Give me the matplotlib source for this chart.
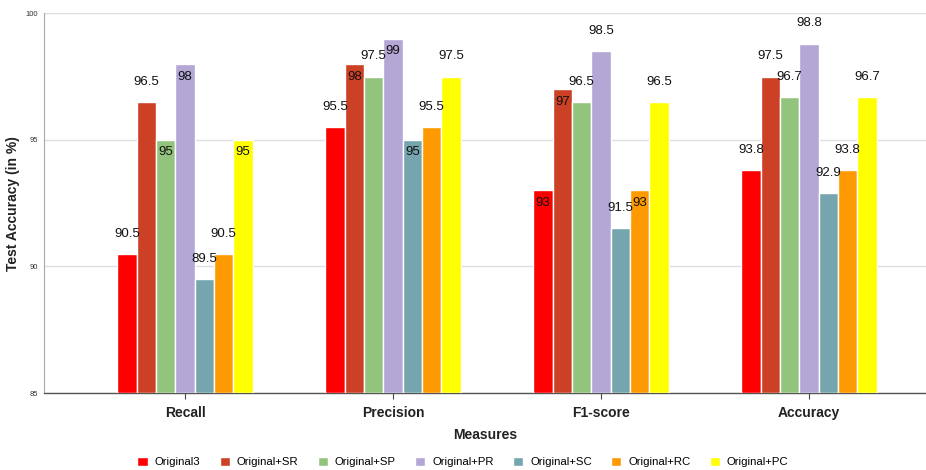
import numpy as np
import matplotlib.pyplot as plt

plt.rcParams['font.family'] = ['Liberation Sans', 'DejaVu Sans']

measures = ['Recall', 'Precision', 'F1-score', 'Accuracy']
series = ['Original3', 'Original+SR', 'Original+SP', 'Original+PR',
          'Original+SC', 'Original+RC', 'Original+PC']
colors = ['#ff0000', '#cc4125', '#93c47d', '#b4a7d6', '#76a5af', '#ff9900', '#ffff00']

original3 = [90.5, 95.5, 93, 93.8]
original_sr = [96.5, 98, 97, 97.5]
original_sp = [95, 97.5, 96.5, 96.7]
original_pr = [98, 99, 98.5, 98.8]
original_sc = [89.5, 95, 91.5, 92.9]
original_rc = [90.5, 95.5, 93, 93.8]
original_pc = [95, 97.5, 96.5, 96.7]
values = [original3, original_sr, original_sp, original_pr,
          original_sc, original_rc, original_pc]

# where each value label sits: True = above the bar, False = just inside its top
label_above = [
    [True, True, False, True],
    [True, False, False, True],
    [False, True, True, True],
    [False, False, True, True],
    [True, False, True, True],
    [True, True, False, True],
    [False, True, True, True],
]

fig = plt.figure(figsize=(9.26, 4.70), dpi=100)
ax = fig.add_axes([0.0475, 0.1638, 0.9525, 0.808])

x = np.arange(len(measures))
pitch = 0.093
for i, (name, vals, col) in enumerate(zip(series, values, colors)):
    pos = x + (i - 3) * pitch
    ax.bar(pos, np.array(vals) - 85, bottom=85, width=pitch, color=col,
           edgecolor='white', linewidth=1.0, label=name, zorder=3)
    for px, v, above in zip(pos, vals, label_above[i]):
        ty = v + 0.8 if above else v - 0.5
        ax.text(px, ty, f'{v:g}', ha='center', va='center', fontsize=9.5,
                color='#111111', zorder=4)

ax.set_xlim(-0.678, 3.5625)
ax.set_ylim(85, 100)
ax.set_yticks([85, 90, 95, 100])
ax.set_yticklabels(['85', '90', '95', '100'], fontsize=5.5, color='#333333')
ax.tick_params(axis='y', length=0, pad=4)
ax.set_xticks(x)
ax.set_xticklabels(measures, fontsize=10, fontweight='bold', color='#222222')
ax.tick_params(axis='x', direction='inout', length=8, width=0.8,
               color='#444444', pad=5)
ax.grid(axis='y', color='#dddddd', linewidth=1.0, zorder=0)
for s in ['top', 'right']:
    ax.spines[s].set_visible(False)
ax.spines['left'].set_color('#aaaaaa')
ax.spines['bottom'].set_color('#555555')
ax.spines['bottom'].set_linewidth(1.0)

ax.set_ylabel('Test Accuracy (in %)', fontsize=10, fontweight='bold',
              color='#222222', labelpad=4)
ax.set_xlabel('Measures', fontsize=10, fontweight='bold', color='#222222',
              labelpad=6)

fig.legend(loc='center', bbox_to_anchor=(0.5, 0.017), ncol=7, frameon=False,
           handlelength=0.9, handleheight=0.9, handletextpad=0.6,
           columnspacing=1.7, prop={'size': 8.2})

fig.savefig('out.png', dpi=100)
